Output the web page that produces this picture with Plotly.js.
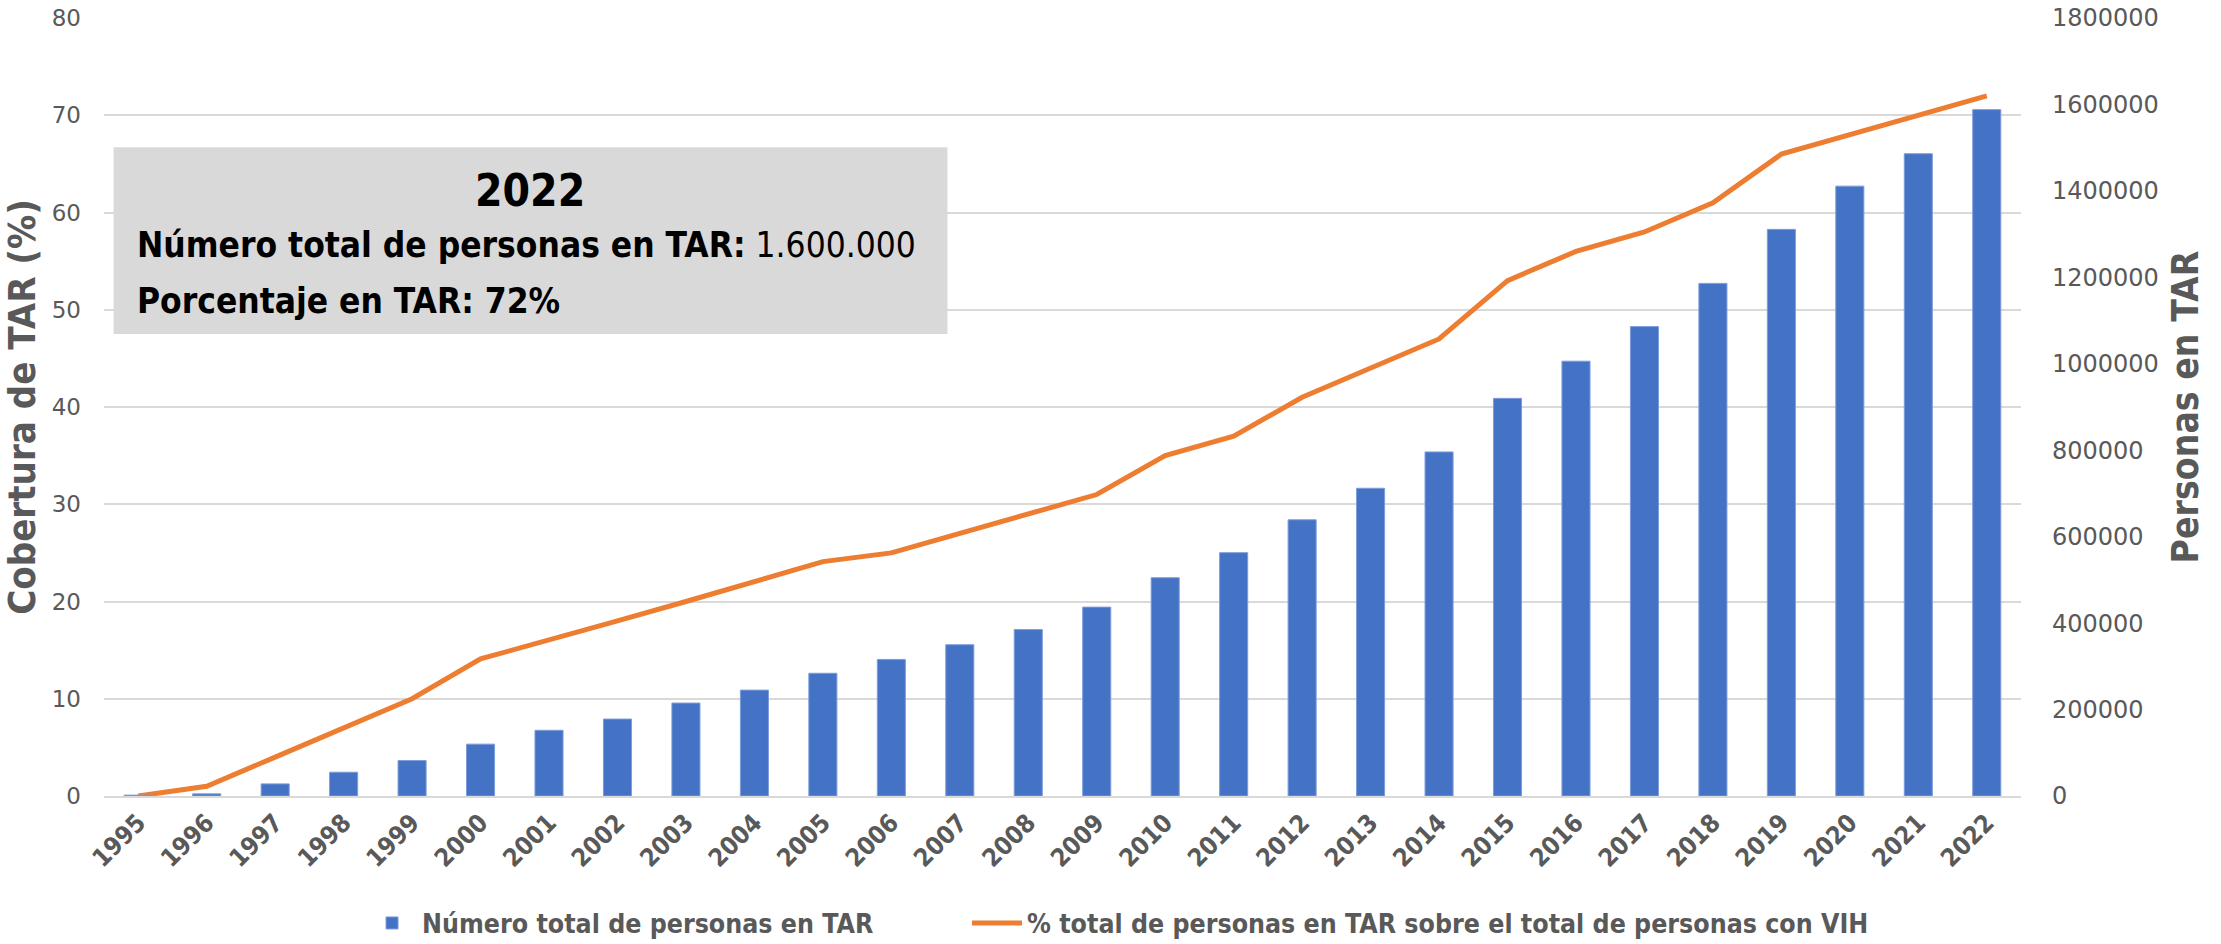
<!DOCTYPE html>
<html>
<head>
<meta charset="utf-8">
<script src="https://cdn.plot.ly/plotly-3.0.1.min.js"></script>
<style>
  html, body { margin: 0; padding: 0; background: #ffffff; }
  #chart { width: 2221px; height: 944px; }
</style>
</head>
<body>
<div id="chart"></div>
<script>
// ---- data ----
const years = ['1995','1996','1997','1998','1999','2000','2001','2002','2003','2004',
               '2005','2006','2007','2008','2009','2010','2011','2012','2013','2014',
               '2015','2016','2017','2018','2019','2020','2021','2022'];

// Número total de personas en TAR (right axis)
const personasTAR = [2000, 5000, 28000, 55000, 82000, 120000, 152000, 178000, 215000, 245000,
                     284000, 316000, 350000, 385000, 437000, 505000, 563000, 639000, 712000, 796000,
                     920000, 1006000, 1086000, 1186000, 1311000, 1411000, 1486000, 1588000];

// % total de personas en TAR sobre el total de personas con VIH (left axis)
const porcentajeTAR = [0, 1.0, 4.0, 7.0, 10.0, 14.1, 16.0, 18.0, 20.0, 22.0,
                       24.1, 25.0, 27.0, 29.0, 31.0, 35.0, 37.0, 41.0, 44.0, 47.0,
                       53.0, 56.0, 58.0, 61.0, 66.0, 68.0, 70.0, 72.0];

const leftTicks = [0, 10, 20, 30, 40, 50, 60, 70, 80];
const rightTicks = [0, 200000, 400000, 600000, 800000, 1000000, 1200000, 1400000, 1600000, 1800000];

const barName = 'Número total de personas en TAR';
const lineName = '% total de personas en TAR sobre el total de personas con VIH';
const leftTitle = 'Cobertura de TAR (%)';
const rightTitle = 'Personas en TAR';
const boxYear = '2022';
const boxLine1Label = 'Número total de personas en TAR:';
const boxLine1Value = '1.600.000';
const boxLine2 = 'Porcentaje en TAR: 72%';

// ---- styling ----
const NARROW = "'Liberation Sans Narrow', 'DejaVu Sans Condensed', 'Arial Narrow', sans-serif";
const WIDE = "'DejaVu Sans', Verdana, sans-serif";
const GRAY = '#595959';
const GRID = '#D9D9D9';
const LEGEND_FONT = { family: NARROW, size: 26.5, color: GRAY, weight: 'bold' };

const traces = [
  {
    type: 'bar',
    name: barName,
    x: years,
    y: personasTAR,
    yaxis: 'y2',
    legend: 'legend',
    marker: { color: '#4472C4', line: { color: '#7C9DDB', width: 1 } },
    hoverinfo: 'skip'
  },
  {
    type: 'scatter',
    mode: 'lines',
    name: lineName,
    x: years,
    y: porcentajeTAR,
    yaxis: 'y',
    legend: 'legend2',
    line: { color: '#ED7D31', width: 5, shape: 'linear' },
    hoverinfo: 'skip'
  }
];

const layout = {
  width: 2221,
  height: 944,
  paper_bgcolor: '#ffffff',
  plot_bgcolor: '#ffffff',
  margin: { l: 104, r: 200, t: 18, b: 148, pad: 0 },
  bargap: 0.59,
  showlegend: true,
  legend: {
    orientation: 'h',
    xref: 'container', yref: 'container',
    x: 0.163, xanchor: 'left',
    y: 0.022, yanchor: 'middle',
    font: LEGEND_FONT,
    itemwidth: 50
  },
  legend2: {
    orientation: 'h',
    xref: 'container', yref: 'container',
    x: 0.4354, xanchor: 'left',
    y: 0.022, yanchor: 'middle',
    font: LEGEND_FONT,
    itemwidth: 50
  },
  xaxis: {
    type: 'category',
    categoryorder: 'array',
    categoryarray: years,
    tickangle: -45,
    tickfont: { family: NARROW, size: 25, color: GRAY, weight: 'bold' },
    showgrid: false,
    showline: true,
    linecolor: GRID,
    linewidth: 2,
    ticks: '',
    zeroline: false,
    automargin: false,
    fixedrange: true
  },
  yaxis: {
    range: [0, 80],
    tickvals: leftTicks,
    ticktext: leftTicks.map(String),
    tickfont: { family: WIDE, size: 23, color: GRAY },
    ticklabelstandoff: 22,
    showgrid: true,
    gridcolor: GRID,
    gridwidth: 2,
    zeroline: true,
    zerolinecolor: GRID,
    zerolinewidth: 2,
    showline: false,
    ticks: '',
    automargin: false,
    title: {
      text: leftTitle,
      font: { family: NARROW, size: 38, color: GRAY, weight: 'bold' },
      standoff: 14
    },
    fixedrange: true
  },
  yaxis2: {
    overlaying: 'y',
    side: 'right',
    range: [0, 1800000],
    tickvals: rightTicks,
    ticktext: rightTicks.map(String),
    tickfont: { family: WIDE, size: 24, color: GRAY },
    ticklabelstandoff: 30,
    showgrid: false,
    zeroline: false,
    showline: false,
    ticks: '',
    automargin: false,
    title: {
      text: rightTitle,
      font: { family: NARROW, size: 37, color: GRAY, weight: 'bold' },
      standoff: 14
    },
    fixedrange: true
  },
  shapes: [
    {
      type: 'rect',
      xref: 'paper', yref: 'y',
      x0: 0.005, x1: 0.44,
      y0: 47.5, y1: 66.7,
      fillcolor: '#D9D9D9',
      line: { width: 0 },
      layer: 'above'
    }
  ],
  annotations: [
    {
      xref: 'paper', yref: 'y',
      x: 0.222, y: 62.3,
      xanchor: 'center', yanchor: 'middle',
      text: '<b>' + boxYear + '</b>',
      showarrow: false,
      font: { family: NARROW, size: 44, color: '#000000' }
    },
    {
      xref: 'paper', yref: 'y',
      x: 0.016, y: 56.7,
      xanchor: 'left', yanchor: 'middle',
      text: '<b>' + boxLine1Label + '</b> ' + boxLine1Value,
      showarrow: false,
      font: { family: NARROW, size: 35, color: '#000000' }
    },
    {
      xref: 'paper', yref: 'y',
      x: 0.016, y: 50.9,
      xanchor: 'left', yanchor: 'middle',
      text: '<b>' + boxLine2 + '</b>',
      showarrow: false,
      font: { family: NARROW, size: 35, color: '#000000' }
    }
  ]
};

Plotly.newPlot('chart', traces, layout, { displayModeBar: false, staticPlot: true });
</script>
</body>
</html>
